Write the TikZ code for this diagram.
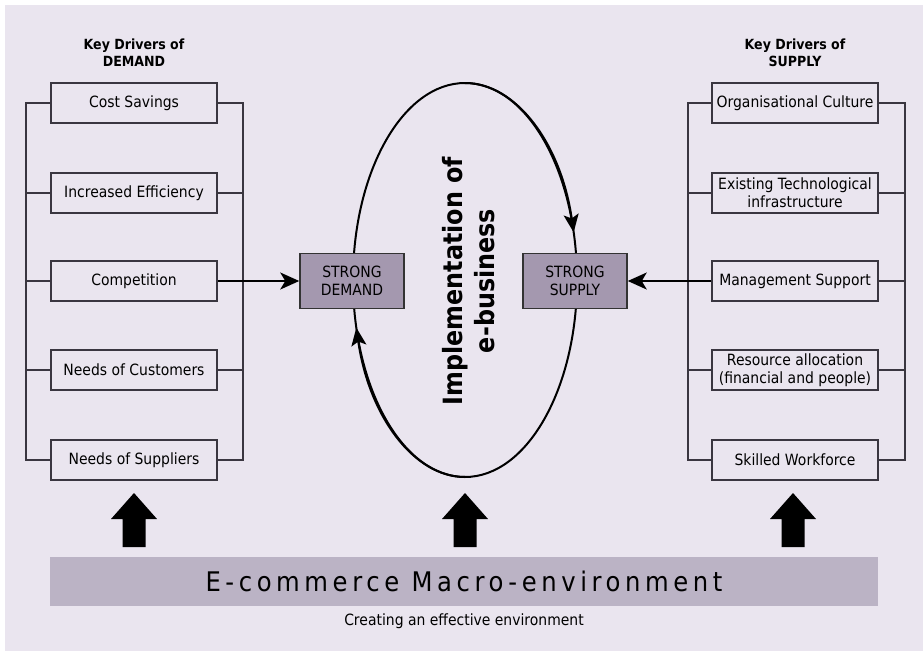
\documentclass[tikz,border=0pt]{standalone}
\usepackage{fontspec}
\setmainfont{DejaVu Sans}[FakeStretch=0.9]
\newfontfamily\barfont{DejaVu Sans}[FakeStretch=0.9,LetterSpace=17]
\usetikzlibrary{arrows.meta}
\definecolor{bgcol}{HTML}{EAE5EF}
\definecolor{barcol}{HTML}{BBB3C5}
\definecolor{strongcol}{HTML}{A498AF}
\definecolor{linecol}{HTML}{3A3640}

\begin{document}
\begin{tikzpicture}
	 [x=1pt,y=1pt,every node/.style={font=\fontsize{15.5}{18}\selectfont,align=center},
	  driver/.style={draw=linecol,line width=1.5pt,fill=bgcol,minimum width=166pt,minimum height=40pt,inner sep=0pt},
	  strong/.style={draw=black!80,line width=1.5pt,fill=strongcol,minimum width=104pt,minimum height=55pt,inner sep=0pt},
	  title/.style={font=\fontsize{14}{17}\selectfont\bfseries},
	  bracket/.style={draw=linecol,line width=1.8pt},
	  loop/.style={line width=2pt,-{Stealth[length=18pt,width=15pt,inset=4pt]}},
	  feed/.style={line width=1.8pt,-{Stealth[length=19pt,width=17pt,inset=5pt]}}]
	\fill[white] (0,0) rectangle (923,-651);
	\fill[bgcol] (5,-5) rectangle (923,-651);
	\useasboundingbox (0,0) rectangle (923,-651);

	% the e-business loop
	\draw[line width=2pt] (465,-280) ellipse [x radius=112, y radius=197];
	\draw[loop] (465,-83) arc[start angle=90,end angle=14,x radius=112,y radius=197];
	\draw[loop] (465,-477) arc[start angle=270,end angle=194,x radius=112,y radius=197];
	\node (impl)[rotate=90,font=\fontsize{26.5}{32}\selectfont\bfseries] at (469,-281) {Implementation of\\e-business};

	\node (td)[title] at (134,-53) {Key Drivers of\\DEMAND};
	\node (ts)[title] at (795,-53) {Key Drivers of\\SUPPLY};

	  \node (d1)[driver] at (134,-103) {Cost Savings};
	  \node (d2)[driver] at (134,-193) {Increased Efficiency};
	  \node (d3)[driver] at (134,-281) {Competition};
	  \node (d4)[driver] at (134,-370) {Needs of Customers};
	  \node (d5)[driver] at (134,-460) {Needs of Suppliers};

	  \node (s1)[driver] at (795,-103) {Organisational Culture};
	  \node (s2)[driver] at (795,-193) {Existing Technological\\infrastructure};
	  \node (s3)[driver] at (795,-281) {Management Support};
	  \node (s4)[driver] at (795,-370) {Resource allocation\\(financial and people)};
	  \node (s5)[driver] at (795,-460) {Skilled Workforce};

	  \node (sd)[strong] at (352,-281) {STRONG\\DEMAND};
	  \node (ss)[strong] at (575,-281) {STRONG\\SUPPLY};

	\draw[bracket] (d1.west) -- ++(-24,0) |- (d5.west);
	\draw[bracket] (d1.east) -- ++(25,0) |- (d5.east);
	\draw[bracket] (s1.west) -- ++(-23,0) |- (s5.west);
	\draw[bracket] (s1.east) -- ++(26,0) |- (s5.east);
	\foreach \n in {d2,d3,d4}
    {\draw[bracket] (\n.west) -- ++(-24,0); \draw[bracket] (\n.east) -- ++(25,0);}
	\foreach \n in {s2,s3,s4}
    {\draw[bracket] (\n.west) -- ++(-23,0); \draw[bracket] (\n.east) -- ++(26,0);}

	\draw[feed] (d3.east) -- (sd.west);
	\draw[feed] (s3.west) -- (ss.east);

	\node (env)[fill=barcol,minimum width=828pt,minimum height=49pt,inner sep=0pt,font=\barfont\fontsize{27}{30}\selectfont] at (464,-581.5) {E-commerce Macro-environment};
	\node (crt) at (464,-621) {Creating an effective environment};

	\foreach \x in {134,465,793}
    \fill (\x,-493) -- ({\x+23},-519) -- ({\x+11.5},-519) -- ({\x+11.5},-547) -- ({\x-11.5},-547) -- ({\x-11.5},-519) -- ({\x-23},-519) -- cycle;

\end{tikzpicture}
\end{document}
